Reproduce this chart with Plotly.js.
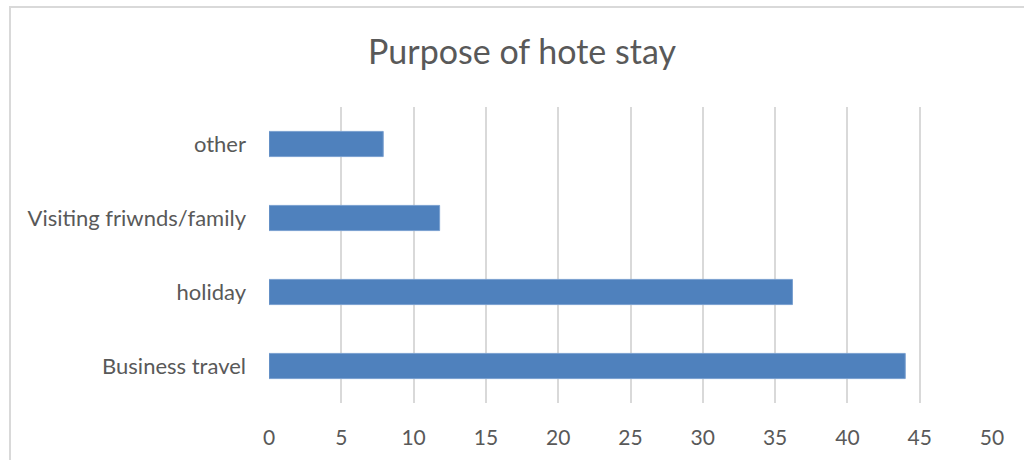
<!DOCTYPE html>
<html>
<head>
<meta charset="utf-8">
<script src="https://cdn.plot.ly/plotly-3.0.1.min.js"></script>
<style>
  html, body { margin: 0; padding: 0; background: #fff; }
  #wrap { position: relative; width: 1024px; height: 460px; }
  #chart { width: 1024px; height: 460px; }
  #frame { position: absolute; left: 9px; top: 6px; width: 1100px; height: 500px;
           border-left: 2px solid #d9d9d9; border-top: 2px solid #d9d9d9; pointer-events: none; }
</style>
</head>
<body>
<div id="wrap">
  <div id="chart"></div>
  <div id="frame"></div>
</div>
<script>
const categories = ["Business travel", "holiday", "Visiting friwnds/family", "other"];
const values = [44, 36.2, 11.8, 7.9];
const tickValues = [0, 5, 10, 15, 20, 25, 30, 35, 40, 45, 50];

const trace = {
  type: "bar",
  orientation: "h",
  y: categories,
  x: values,
  marker: { color: "#4f81bd", line: { color: "#7aa0d0", width: 1 } },
  hoverinfo: "x+y"
};

const layout = {
  width: 1024,
  height: 460,
  margin: { l: 269, r: 32, t: 107, b: 57 },
  paper_bgcolor: "rgba(0,0,0,0)",
  plot_bgcolor: "rgba(0,0,0,0)",
  font: { family: "Lato, 'Open Sans', sans-serif", color: "#595959" },
  title: {
    text: "Purpose of hote stay",
    font: { size: 34, color: "#595959", family: "Lato, 'Open Sans', sans-serif" },
    x: 522 / 1024, xref: "container", xanchor: "center",
    y: 1 - 52 / 460, yref: "container", yanchor: "middle"
  },
  bargap: 0.66,
  showlegend: false,
  xaxis: {
    range: [0, 50],
    tickvals: tickValues,
    ticktext: tickValues.map(String),
    showgrid: true,
    gridcolor: "#d9d9d9",
    gridwidth: 2,
    zeroline: false,
    showline: false,
    ticks: "",
    ticklabelstandoff: 20,
    tickfont: { size: 21, color: "#595959" },
    fixedrange: true
  },
  yaxis: {
    type: "category",
    categoryorder: "array",
    categoryarray: categories,
    showgrid: false,
    zeroline: false,
    showline: false,
    ticks: "",
    ticklabelstandoff: 22,
    tickfont: { size: 22, color: "#595959" },
    fixedrange: true
  }
};

Plotly.newPlot("chart", [trace], layout, { displayModeBar: false, staticPlot: true });
</script>
</body>
</html>
